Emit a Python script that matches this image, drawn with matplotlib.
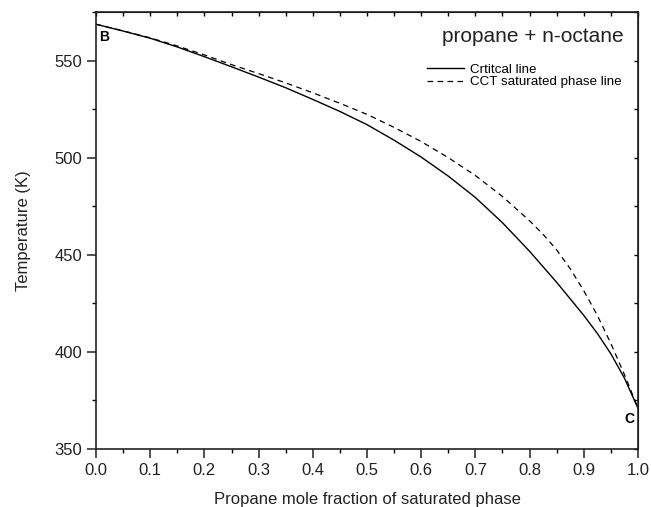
import numpy as np
import matplotlib
matplotlib.use("Agg")
import matplotlib.pyplot as plt
from matplotlib.ticker import MultipleLocator, FormatStrFormatter

plt.rcParams['font.family'] = ['Liberation Sans', 'DejaVu Sans']

# critical line
x_crit = [0.0, 0.05, 0.1, 0.15, 0.2, 0.25, 0.3, 0.35, 0.4, 0.45, 0.5, 0.55, 0.6, 0.65,
          0.7, 0.75, 0.8, 0.85, 0.9, 0.925, 0.95, 0.975, 1.0]
t_crit = [568.7, 565.2, 561.5, 557.0, 552.0, 546.8, 541.5, 536.0, 530.0, 523.8, 517.0,
          509.0, 500.3, 490.5, 479.5, 466.5, 451.8, 435.8, 418.8, 409.5, 399.0, 386.5, 371.0]

# CCT saturated phase line
x_cct = [0.0, 0.05, 0.1, 0.15, 0.2, 0.25, 0.3, 0.35, 0.4, 0.45, 0.5, 0.55, 0.6, 0.65,
         0.7, 0.75, 0.8, 0.825, 0.85, 0.875, 0.9, 0.925, 0.95, 0.975, 1.0]
t_cct = [568.7, 565.3, 561.7, 557.5, 552.9, 547.9, 543.3, 538.5, 533.4, 528.0, 522.3,
         515.6, 508.3, 500.0, 490.8, 480.0, 467.5, 460.5, 452.5, 442.8, 431.5, 418.8,
         404.3, 388.3, 371.0]

fig = plt.figure(figsize=(6.51, 5.07), dpi=100)
ax = fig.add_axes([0.1475, 0.1144, 0.8325, 0.8619])

ax.plot(x_crit, t_crit, color='black', lw=1.0, label='Crtitcal line')
ax.plot(x_cct, t_cct, color='black', lw=0.9, linestyle=(0, (4.5, 3.5)),
        label='CCT saturated phase line')

ax.set_xlim(0, 1.0)
ax.set_ylim(350, 575)
ax.xaxis.set_major_locator(MultipleLocator(0.1))
ax.xaxis.set_minor_locator(MultipleLocator(0.05))
ax.yaxis.set_major_locator(MultipleLocator(50))
ax.yaxis.set_minor_locator(MultipleLocator(25))
ax.xaxis.set_major_formatter(FormatStrFormatter('%.1f'))
ax.tick_params(which='major', direction='out', length=6.5, width=1.1, labelsize=12, colors='#222222')
ax.tick_params(which='minor', direction='out', length=3, width=1.0)
for s in ax.spines.values():
    s.set_linewidth(1.2)
    s.set_color('#222222')

# inward ticks on top and right
top = ax.secondary_xaxis('top')
top.xaxis.set_major_locator(MultipleLocator(0.1))
top.xaxis.set_minor_locator(MultipleLocator(0.05))
top.tick_params(which='both', direction='in', length=3, width=1.0, labeltop=False)
right = ax.secondary_yaxis('right')
right.yaxis.set_major_locator(MultipleLocator(50))
right.yaxis.set_minor_locator(MultipleLocator(25))
right.tick_params(which='both', direction='in', length=3, width=1.0, labelright=False)

ax.set_xlabel('Propane mole fraction of saturated phase', fontsize=12, labelpad=10, color='#222222')
ax.set_ylabel('Temperature (K)', fontsize=12, labelpad=17, color='#222222')

ax.text(0.006, 562, 'B', fontsize=10, fontweight='bold', va='center', ha='left')
ax.text(0.994, 365.5, 'C', fontsize=10, fontweight='bold', va='center', ha='right')
ax.text(0.806, 562.5, 'propane + n-octane', fontsize=15, ha='center', va='center', color='#222222')

ax.legend(loc='upper left', bbox_to_anchor=(0.611, 0.882), frameon=False, fontsize=9.6,
          handlelength=2.8, handletextpad=0.4, labelspacing=0.0, borderpad=0,
          borderaxespad=0)

fig.savefig('out.png', dpi=100)
